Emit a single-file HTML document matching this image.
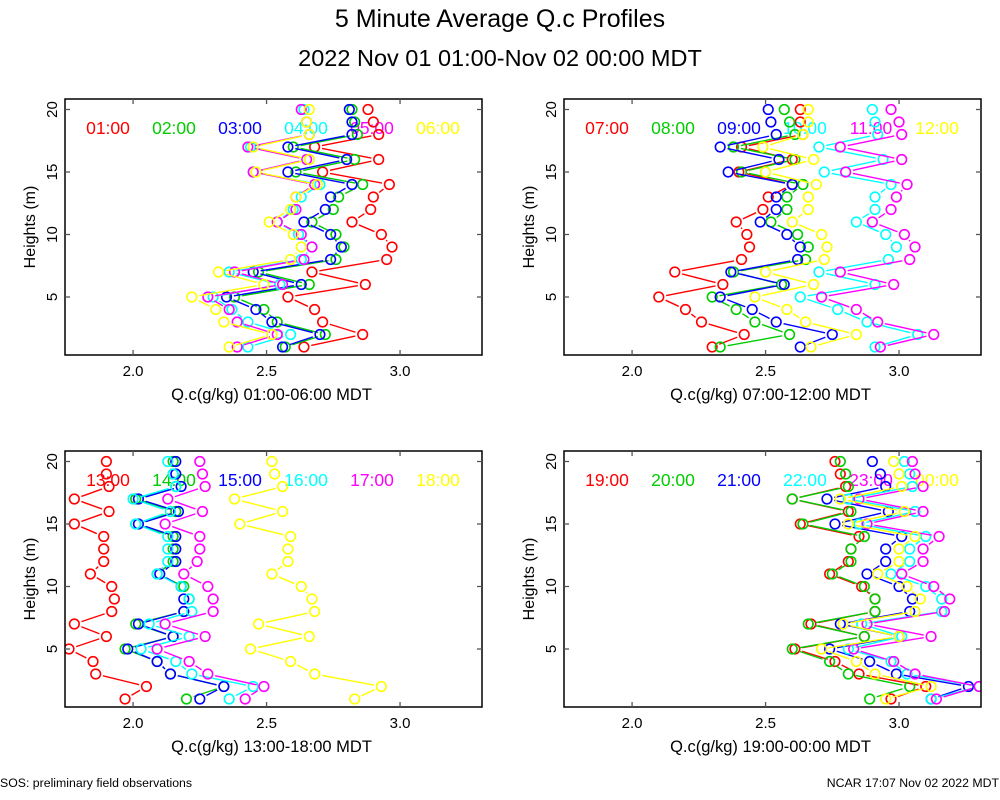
<!DOCTYPE html>
<html><head><meta charset="utf-8"><style>
html,body{margin:0;padding:0;background:#fff;}
svg{display:block;font-family:"Liberation Sans",sans-serif;}
</style></head><body>
<svg id="chart" width="1000" height="800" viewBox="0 0 1000 800">
<text x="500" y="27" text-anchor="middle" font-size="25">5 Minute Average Q.c Profiles</text>
<text x="500" y="66" text-anchor="middle" font-size="23.5">2022 Nov 01 01:00-Nov 02 00:00 MDT</text>
<text x="0" y="787" font-size="12.3">SOS: preliminary field observations</text>
<text x="999" y="787" font-size="12.3" text-anchor="end">NCAR 17:07 Nov 02 2022 MDT</text>
</svg>
<script>
const heights=[1,2,3,4,5,6,7,8,9,10,11,12,13,14,15,16,17,18,19,20];
const colors=["#ff0000","#00cc00","#0000ff","#00ffff","#ff00ff","#ffff00"];
const xTicks=[2.0,2.5,3.0];
const xTickLabels=["2.0","2.5","3.0"];
const yTicks=[5,10,15,20];
const labelsA=["01:00","02:00","03:00","04:00","05:00","06:00"];
const labelsB=["07:00","08:00","09:00","10:00","11:00","12:00"];
const labelsC=["13:00","14:00","15:00","16:00","17:00","18:00"];
const labelsD=["19:00","20:00","21:00","22:00","23:00","00:00"];
const titlesX=["Q.c(g/kg) 01:00-06:00 MDT","Q.c(g/kg) 07:00-12:00 MDT","Q.c(g/kg) 13:00-18:00 MDT","Q.c(g/kg) 19:00-00:00 MDT"];
// panel A
const a01=[2.64,2.86,2.71,2.68,2.58,2.87,2.67,2.95,2.97,2.93,2.82,2.89,2.90,2.96,2.71,2.92,2.68,2.92,2.90,2.88];
const a02=[2.57,2.72,2.54,2.49,2.38,2.66,2.47,2.76,2.79,2.76,2.67,2.75,2.77,2.86,2.61,2.83,2.60,2.84,2.83,2.82];
const a03=[2.56,2.70,2.52,2.46,2.35,2.63,2.45,2.74,2.78,2.74,2.64,2.72,2.74,2.82,2.58,2.80,2.58,2.82,2.82,2.81];
const a04=[2.43,2.59,2.43,2.37,2.30,2.55,2.36,2.63,2.67,2.62,2.54,2.60,2.63,2.70,2.45,2.66,2.44,2.66,2.65,2.64];
const a05=[2.39,2.54,2.39,2.36,2.28,2.56,2.38,2.64,2.67,2.63,2.54,2.61,2.61,2.68,2.45,2.65,2.43,2.66,2.65,2.63];
const a06=[2.36,2.52,2.34,2.31,2.22,2.49,2.32,2.59,2.63,2.60,2.51,2.59,2.61,2.69,2.46,2.66,2.45,2.66,2.65,2.66];
// panel B
const b07=[2.30,2.42,2.26,2.20,2.10,2.34,2.16,2.41,2.44,2.43,2.39,2.49,2.51,2.60,2.40,2.60,2.41,2.64,2.63,2.63];
const b08=[2.33,2.59,2.46,2.39,2.30,2.56,2.38,2.65,2.66,2.62,2.52,2.58,2.58,2.64,2.41,2.61,2.38,2.61,2.59,2.57];
const b09=[2.63,2.75,2.54,2.45,2.33,2.57,2.37,2.62,2.63,2.58,2.48,2.54,2.54,2.60,2.36,2.55,2.33,2.54,2.52,2.51];
const b10=[2.91,3.07,2.88,2.77,2.63,2.91,2.70,2.96,2.99,2.95,2.84,2.91,2.91,2.97,2.72,2.94,2.70,2.92,2.91,2.90];
const b11=[2.93,3.13,2.92,2.84,2.71,2.98,2.78,3.04,3.06,3.02,2.90,2.97,2.99,3.03,2.80,3.01,2.78,3.01,3.00,2.97];
const b12=[2.67,2.84,2.65,2.58,2.46,2.68,2.50,2.72,2.73,2.71,2.60,2.66,2.66,2.69,2.50,2.68,2.49,2.64,2.66,2.66];
// panel C
const c13=[1.97,2.05,1.86,1.85,1.76,1.90,1.78,1.92,1.93,1.92,1.84,1.89,1.89,1.89,1.78,1.91,1.78,1.91,1.90,1.90];
const c14=[2.20,2.34,2.14,2.09,1.97,2.15,2.01,2.19,2.21,2.19,2.09,2.15,2.15,2.15,2.01,2.16,2.01,2.16,2.15,2.15];
const c15=[2.25,2.34,2.14,2.09,1.98,2.15,2.02,2.19,2.19,2.18,2.10,2.16,2.16,2.16,2.02,2.17,2.02,2.18,2.16,2.16];
const c16=[2.36,2.45,2.22,2.16,2.03,2.21,2.06,2.22,2.21,2.18,2.09,2.13,2.13,2.13,2.01,2.14,2.00,2.16,2.15,2.13];
const c17=[2.42,2.49,2.28,2.21,2.09,2.27,2.12,2.30,2.30,2.28,2.19,2.24,2.25,2.25,2.12,2.26,2.13,2.27,2.26,2.25];
const c18=[2.83,2.93,2.68,2.59,2.44,2.66,2.47,2.68,2.67,2.63,2.52,2.58,2.58,2.59,2.40,2.56,2.38,2.56,2.53,2.52];
// panel D
const d19=[2.97,3.10,2.85,2.76,2.61,2.87,2.67,2.91,2.91,2.86,2.74,2.81,2.82,2.85,2.63,2.81,2.60,2.80,2.78,2.76];
const d20=[2.89,3.04,2.81,2.74,2.60,2.87,2.66,2.91,2.91,2.87,2.75,2.82,2.82,2.87,2.64,2.82,2.60,2.81,2.80,2.78];
const d21=[3.12,3.26,2.99,2.89,2.74,3.00,2.78,3.04,3.05,3.00,2.88,2.95,2.95,3.01,2.76,2.96,2.73,2.95,2.93,2.90];
const d22=[3.12,3.30,3.03,2.97,2.81,3.01,2.86,3.16,3.16,3.10,2.97,3.04,3.04,3.10,2.85,3.06,2.81,3.05,3.04,3.02];
const d23=[3.14,3.30,3.06,2.98,2.83,3.12,2.88,3.17,3.19,3.13,3.01,3.09,3.09,3.15,2.88,3.09,2.85,3.09,3.06,3.05];
const d00=[2.95,3.12,2.91,2.84,2.71,3.00,2.79,3.06,3.08,3.03,2.92,3.00,3.00,3.06,2.81,3.02,2.78,3.01,3.00,2.98];

const NS="http://www.w3.org/2000/svg";
const svg=document.getElementById('chart');
function mk(tag,attrs,parent){const e=document.createElementNS(NS,tag);for(const k in attrs)e.setAttribute(k,attrs[k]);(parent||svg).appendChild(e);return e;}

const panels=[
 {x0:65,y0:99,series:[a01,a02,a03,a04,a05,a06],labels:labelsA,id:"a"},
 {x0:564,y0:99,series:[b07,b08,b09,b10,b11,b12],labels:labelsB,id:"b"},
 {x0:65,y0:451,series:[c13,c14,c15,c16,c17,c18],labels:labelsC,id:"c"},
 {x0:564,y0:451,series:[d19,d20,d21,d22,d23,d00],labels:labelsD,id:"d"}
];
const W=417,H=256,XMIN=1.745,XMAX=3.307,YMIN=0.36,YMAX=20.84;

panels.forEach((p,pi)=>{
 const sx=v=>p.x0+(v-XMIN)/(XMAX-XMIN)*W;
 const sy=h=>p.y0+H-(h-YMIN)/(YMAX-YMIN)*H;
 const g=mk('g',{});
 
 
 const cid='clip'+p.id;
 const cp=mk('clipPath',{id:cid},g);
 mk('rect',{x:p.x0,y:p.y0,width:W,height:H},cp);
 p.labels.forEach((lab,i)=>{
  const t=mk('text',{x:p.x0+43+i*66,y:p.y0+35,'font-size':17.5,'text-anchor':'middle',fill:colors[i]},g);
  t.textContent=lab;
  
  
 });
 const plot=mk('g',{'clip-path':'url(#'+cid+')'},g);
 p.series.forEach((ser,si)=>{
  const sg=mk('g',{stroke:colors[si],fill:'none','stroke-width':1.4},plot);
  
  
  for(let k=0;k<ser.length-1;k++){
   const x1=sx(ser[k]),y1=sy(heights[k]),x2=sx(ser[k+1]),y2=sy(heights[k+1]);
   const dx=x2-x1,dy=y2-y1,L=Math.hypot(dx,dy),r=7.5;
   if(L>2*r){
    const ln=mk('line',{x1:x1+dx/L*r,y1:y1+dy/L*r,x2:x2-dx/L*r,y2:y2-dy/L*r},sg);
    
    
   }
  }
  ser.forEach((v,k)=>{
   const c=mk('circle',{cx:sx(v),cy:sy(heights[k]),r:4.8,'stroke-width':1.6},sg);
   
   
  });
 });
 const fr=mk('rect',{x:p.x0,y:p.y0,width:W,height:H,fill:'none',stroke:'#000','stroke-width':1.5},g);
 
 
 xTicks.forEach((v,i)=>{
  const x=sx(v);
  mk('line',{x1:x,y1:p.y0+H,x2:x,y2:p.y0+H-5,stroke:'#555','stroke-width':1.3},g);
  mk('line',{x1:x,y1:p.y0,x2:x,y2:p.y0+5,stroke:'#555','stroke-width':1.3},g);
  const t=mk('text',{x:x,y:p.y0+H+21,'font-size':15,'text-anchor':'middle'},g);
  t.textContent=xTickLabels[i];
  
  
 });
 yTicks.forEach(v=>{
  const y=sy(v);
  mk('line',{x1:p.x0,y1:y,x2:p.x0+5,y2:y,stroke:'#555','stroke-width':1.3},g);
  mk('line',{x1:p.x0+W,y1:y,x2:p.x0+W-5,y2:y,stroke:'#555','stroke-width':1.3},g);
  const tx=p.x0-8;
  const t=mk('text',{x:tx,y:y,'font-size':15,'text-anchor':'middle',transform:'rotate(-90 '+tx+' '+y+')'},g);
  t.textContent=String(v);
  
  
 });
 const yl=p.x0-30, ym=p.y0+H/2;
 const yt=mk('text',{x:yl,y:ym,'font-size':16,'text-anchor':'middle',transform:'rotate(-90 '+yl+' '+ym+')'},g);
 yt.textContent='Heights (m)';
 
 
 const xt=mk('text',{x:p.x0+W/2-2,y:p.y0+H+45,'font-size':16.5,'text-anchor':'middle'},g);
 xt.textContent=titlesX[pi];
 
 
});
</script>
</body></html>
